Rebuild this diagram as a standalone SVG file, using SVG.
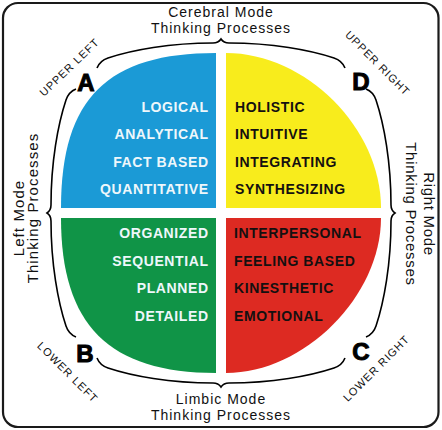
<svg xmlns="http://www.w3.org/2000/svg" xmlns:xlink="http://www.w3.org/1999/xlink" width="442" height="430" viewBox="0 0 442 430">
<style>
.t{font-family:"Liberation Sans",Arial,sans-serif;}
.title{font-size:14px;letter-spacing:1px;fill:#111;text-anchor:middle;}
.side{font-size:15px;fill:#111;text-anchor:middle;}
.corner{font-size:11px;letter-spacing:1px;fill:#111;text-anchor:middle;}
.big{font-size:24px;font-weight:bold;fill:#000;stroke:#000;stroke-width:1px;text-anchor:middle;}
.q{font-size:14px;font-weight:bold;letter-spacing:0.6px;}
.qr{text-anchor:end;}
.light{fill:#eef7fb;}
.dark{fill:#141010;}
.brace{fill:none;stroke:#000;stroke-width:1.6;}
</style>
<defs>
<path id="brace" d="M97,68 C99,63 102,60 108,58 C132,50 170,43 213,43 C217,43 219,42 221,39 C223,42 225,43 229,43 C272,43 310,50 334,58 C340,60 343,63 345,68"/>
</defs>
<rect x="3" y="3" width="435.5" height="424" rx="15" ry="15" fill="#fff" stroke="#1a1a1a" stroke-width="2.2"/>
<g id="connectors" class="brace">
<use xlink:href="#brace"/>
<use xlink:href="#brace" transform="rotate(-90 221 213)"/>
<use xlink:href="#brace" transform="rotate(90 221 213)"/>
<use xlink:href="#brace" transform="rotate(180 221 213)"/>
</g>
<g id="quadrant-a">
<path d="M216,208 V53 C108,53 61,97.8 61,208 Z" fill="#1b9ad6"/>
<g class="t q qr light">
<text x="208.6" y="112">LOGICAL</text>
<text x="208.6" y="139">ANALYTICAL</text>
<text x="208.6" y="167">FACT BASED</text>
<text x="208.6" y="194">QUANTITATIVE</text>
</g>
</g>
<g id="quadrant-d">
<path d="M226,208 V53 C305.8,53 381,128.2 381,208 Z" fill="#f8ec1c"/>
<g class="t q dark">
<text x="235" y="112">HOLISTIC</text>
<text x="235" y="139">INTUITIVE</text>
<text x="235" y="167">INTEGRATING</text>
<text x="235" y="194">SYNTHESIZING</text>
</g>
</g>
<g id="quadrant-b">
<path d="M216,218 V373 C109,373 61,325 61,218 Z" fill="#109447"/>
<g class="t q qr light">
<text x="208.6" y="238">ORGANIZED</text>
<text x="208.6" y="266">SEQUENTIAL</text>
<text x="208.6" y="293">PLANNED</text>
<text x="208.6" y="321">DETAILED</text>
</g>
</g>
<g id="quadrant-c">
<path d="M226,218 V373 C304.2,373 381,296.2 381,218 Z" fill="#dd2a22"/>
<g class="t q dark">
<text x="234" y="238">INTERPERSONAL</text>
<text x="234" y="266">FEELING BASED</text>
<text x="234" y="293">KINESTHETIC</text>
<text x="234" y="321">EMOTIONAL</text>
</g>
</g>
<g id="letters" class="t big">
<text x="86" y="91">A</text>
<text x="361" y="90">D</text>
<text x="85" y="362">B</text>
<text x="361" y="360">C</text>
</g>
<g id="corner-labels" class="t corner">
<text transform="translate(72,70) rotate(-44)">UPPER LEFT</text>
<text transform="translate(375,66) rotate(45)">UPPER RIGHT</text>
<text transform="translate(65,375) rotate(45)">LOWER LEFT</text>
<text transform="translate(379,371) rotate(-45)">LOWER RIGHT</text>
</g>
<g id="mode-labels" class="t">
<text class="title" x="221" y="17">Cerebral Mode</text>
<text class="title" x="221" y="33">Thinking Processes</text>
<text class="title" x="221" y="404">Limbic Mode</text>
<text class="title" x="221" y="420">Thinking Processes</text>
<text class="side" style="letter-spacing:1.1px" transform="translate(24,218) rotate(-90)">Left Mode</text>
<text class="side" style="letter-spacing:1.1px" transform="translate(38,208) rotate(-90)">Thinking Processes</text>
<text class="side" style="letter-spacing:0.7px" transform="translate(424,214) rotate(90)">Right Mode</text>
<text class="side" style="letter-spacing:0.7px" transform="translate(406,214) rotate(90)">Thinking Processes</text>
</g>
</svg>
